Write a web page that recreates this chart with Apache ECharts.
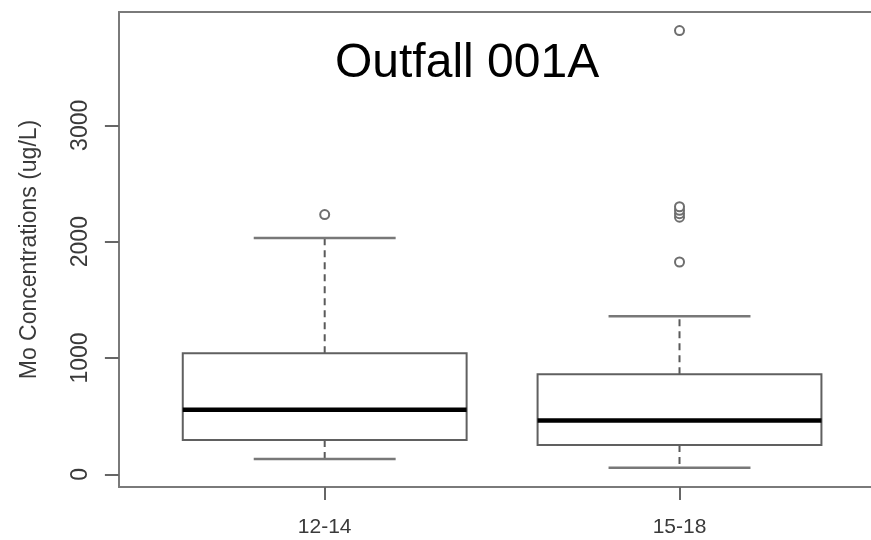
<!DOCTYPE html>
<html>
<head>
<meta charset="utf-8">
<script src="https://cdn.jsdelivr.net/npm/echarts@6/dist/echarts.min.js"></script>
<style>html,body{margin:0;padding:0;background:#fff;}#c{width:871px;height:540px;}</style>
</head>
<body>
<div id="c"></div>
<script>
// ---- data ----
const categories = ['12-14', '15-18'];
const lowerWhisker = [132, 57];
const q1 = [295, 251];
const median = [555, 463];
const q3 = [1040, 861];
const upperWhisker = [2032, 1359];
// outliers: [group index, value]
const outlierGroup = [0, 1, 1, 1, 1, 1, 1];
const outlierValue = [2233, 1825, 2210, 2240, 2270, 2300, 3814];
const yTicks = [0, 1000, 2000, 3000];
const title = 'Outfall 001A';
const yTitle = 'Mo Concentrations (ug/L)';

const labelFont = "'Liberation Sans',Arial,sans-serif";
const frameColor = '#7a7a7a';

const boxData = categories.map((c, i) => [i + 1, lowerWhisker[i], q1[i], median[i], q3[i], upperWhisker[i]]);
const outlierData = outlierGroup.map((g, i) => [g + 1, outlierValue[i]]);

const chart = echarts.init(document.getElementById('c'), null, {renderer: 'canvas'});

function renderBox(params, api) {
  const x = api.value(0);
  const lo = api.value(1), a = api.value(2), m = api.value(3), b = api.value(4), hi = api.value(5);
  const halfBox = api.size([0.8, 0])[0] / 2;
  const halfCap = halfBox / 2;
  const pLo = api.coord([x, lo]), pA = api.coord([x, a]), pM = api.coord([x, m]), pB = api.coord([x, b]), pHi = api.coord([x, hi]);
  const cx = pM[0];
  const boxStroke = '#606060';
  const capStroke = '#787878';
  const whiskStyle = {stroke: '#5a5a5a', lineWidth: 2, lineDash: [7, 5]};
  return {
    type: 'group',
    children: [
      {type: 'line', shape: {x1: cx, y1: pB[1], x2: cx, y2: pHi[1]}, style: whiskStyle},
      {type: 'line', shape: {x1: cx, y1: pA[1], x2: cx, y2: pLo[1]}, style: whiskStyle},
      {type: 'line', shape: {x1: cx - halfCap, y1: pHi[1], x2: cx + halfCap, y2: pHi[1]}, style: {stroke: capStroke, lineWidth: 2.5}},
      {type: 'line', shape: {x1: cx - halfCap, y1: pLo[1], x2: cx + halfCap, y2: pLo[1]}, style: {stroke: capStroke, lineWidth: 2.5}},
      {type: 'rect', shape: {x: cx - halfBox, y: pB[1], width: halfBox * 2, height: pA[1] - pB[1]}, style: {stroke: boxStroke, lineWidth: 2, fill: '#fff'}},
      {type: 'line', shape: {x1: cx - halfBox, y1: pM[1], x2: cx + halfBox, y2: pM[1]}, style: {stroke: '#000', lineWidth: 4.5}}
    ]
  };
}

chart.setOption({
  backgroundColor: '#fff',
  animation: false,
  title: {
    text: title,
    left: 330,
    top: 35,
    textStyle: {fontFamily: "'Liberation Sans',Arial,sans-serif", fontSize: 48, fontWeight: 'normal', color: '#000'}
  },
  grid: {
    left: 118.9, top: 12, width: 766.4, height: 475,
    outerBoundsMode: 'none', containLabel: false,
    show: false
  },
  xAxis: [
    {
      type: 'value', min: 0.42, max: 2.58, position: 'bottom',
      splitLine: {show: false},
      axisLine: {show: true, onZero: false, lineStyle: {color: frameColor, width: 2}},
      axisTick: {show: true, customValues: [1, 2], length: 13, lineStyle: {color: '#666', width: 2}},
      axisLabel: {
        customValues: [1, 2], margin: 30,
        formatter: v => categories[Math.round(v) - 1] || '',
        fontFamily: labelFont, fontSize: 21, color: '#3a3a3a'
      }
    },
    {
      type: 'value', min: 0.42, max: 2.58, position: 'top',
      splitLine: {show: false},
      axisLine: {show: true, onZero: false, lineStyle: {color: frameColor, width: 2}},
      axisTick: {show: false},
      axisLabel: {show: false}
    }
  ],
  yAxis: {
    type: 'value', min: -109, max: 3974,
    splitLine: {show: false},
    axisLine: {show: true, onZero: false, lineStyle: {color: frameColor, width: 2}},
    axisTick: {show: true, customValues: yTicks, length: 14, lineStyle: {color: '#666', width: 2}},
    axisLabel: {
      customValues: yTicks, rotate: 90, margin: 27,
      formatter: v => String(v),
      fontFamily: labelFont, fontSize: 23, color: '#3a3a3a'
    },
    name: yTitle, nameLocation: 'middle', nameGap: 78, nameRotate: 90,
    nameTextStyle: {fontFamily: labelFont, fontSize: 23, color: '#3a3a3a'}
  },
  series: [
    {
      type: 'custom',
      renderItem: renderBox,
      data: boxData,
      encode: {x: 0, y: [1, 2, 3, 4, 5]},
      z: 2
    },
    {
      type: 'scatter',
      data: outlierData,
      symbol: 'circle',
      symbolSize: 9,
      itemStyle: {color: '#fff', borderColor: '#6e6e6e', borderWidth: 2, opacity: 1},
      z: 3
    }
  ]
});
</script>
</body>
</html>
